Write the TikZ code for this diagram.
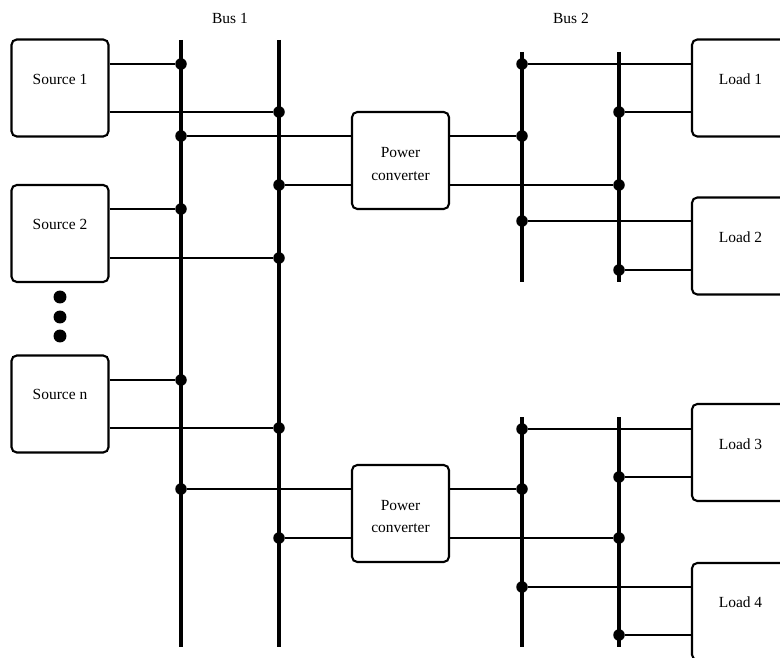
\documentclass[tikz,border=0pt]{standalone}
\usepackage{fontspec}
\setmainfont{Liberation Serif}
\usetikzlibrary{positioning}
\tikzset{
  unit/.style={draw,line width=1.2pt,rounded corners=3pt,minimum width=1.94cm,minimum height=1.94cm,inner sep=0pt},
  lbl/.style={font=\fontsize{8.8}{13}\selectfont,align=center},
  busln/.style={line width=2pt},
  wire/.style={line width=1.3pt},
  jdot/.style={circle,fill=black,minimum size=2.3mm,inner sep=0pt},
  edot/.style={circle,fill=black,minimum size=2.6mm,inner sep=0pt},
}
\begin{document}
\begin{tikzpicture}[x=0.02cm,y=-0.02cm]
  \clip (0,0) rectangle (780,658);
  % sources and loads
  \node[unit,label={[lbl,yshift=0.18cm]center:Source 1}] (s1) at (60,88)  {};
  \node[unit,label={[lbl,yshift=0.19cm]center:Source 2}] (s2) at (60,233.5) {};
  \node[unit,label={[lbl,yshift=0.20cm]center:Source n}] (sn) at (60,404) {};
  \node[unit,label={[lbl,yshift=0.18cm]center:Load 1}] (l1) at (740.5,88) {};
  \node[unit,label={[lbl,yshift=0.18cm]center:Load 2}] (l2) at (740.5,246) {};
  \node[unit,label={[lbl,yshift=0.17cm]center:Load 3}] (l3) at (740.5,452.5) {};
  \node[unit,label={[lbl,yshift=0.19cm]center:Load 4}] (l4) at (740.5,611.5) {};
  \node[unit,label={[lbl,yshift=-0.07cm]center:Power\\converter}] (pc1) at (400.5,160.5) {};
  \node[unit,label={[lbl,yshift=-0.06cm]center:Power\\converter}] (pc2) at (400.5,513.5) {};
  \foreach \i/\y in {1/297,2/317,3/336} \node[edot] (e\i) at (60,\y) {};
  % buses
  \node[lbl] (bus1) at (230,18) {Bus 1};
  \node[lbl] (bus2) at (571,18) {Bus 2};
  \foreach \n/\x/\ya/\yb in {ba/181/40/647, bb/279/40/647, bc/522/52/282, bd/619/52/282,
                             be/522/417/647, bf/619/417/647} {
    \coordinate (\n t) at (\x,\ya);
    \coordinate (\n b) at (\x,\yb);
    \draw[busln] (\n t) -- (\n b);
  }
  % junctions
  \foreach \j/\x/\y/\b/\s in {j1/181/64/s1/east, j2/279/112/s1/east, j3/181/209/s2/east,
      j4/279/258/s2/east, j5/181/380/sn/east, j6/279/428/sn/east,
      j7/181/136/pc1/west, j8/279/185/pc1/west, j9/181/489/pc2/west, j10/279/538/pc2/west,
      j11/522/136/pc1/east, j12/619/185/pc1/east, j13/522/489/pc2/east, j14/619/538/pc2/east,
      j15/522/64/l1/west, j16/619/112/l1/west, j17/522/221/l2/west, j18/619/270/l2/west,
      j19/522/429/l3/west, j20/619/477/l3/west, j21/522/587/l4/west, j22/619/635/l4/west} {
    \node[jdot] (\j) at (\x,\y) {};
    \draw[wire] (\b.\s |- \j) -- (\j);
  }
\end{tikzpicture}
\end{document}
